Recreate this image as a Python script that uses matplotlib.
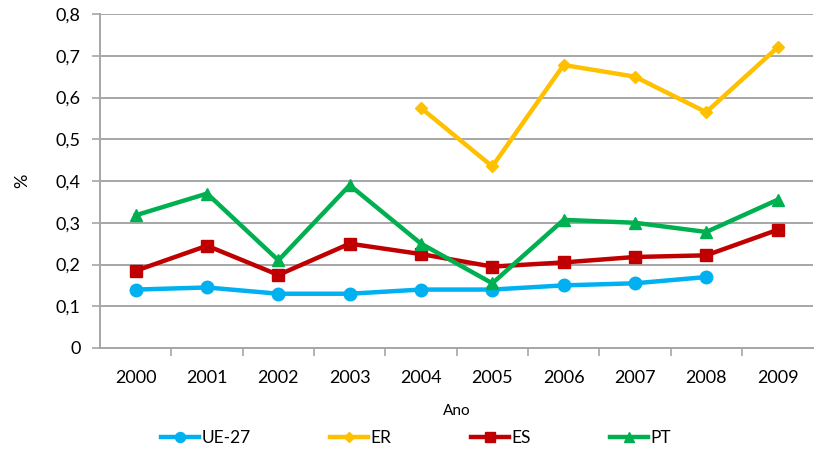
import matplotlib.pyplot as plt
import numpy as np

years = ['2000', '2001', '2002', '2003', '2004', '2005', '2006', '2007', '2008', '2009']
ue27 = [0.14, 0.145, 0.13, 0.13, 0.14, 0.14, 0.15, 0.155, 0.17, None]
er = [None, None, None, None, 0.575, 0.435, 0.678, 0.65, 0.565, 0.72]
es = [0.185, 0.245, 0.175, 0.25, 0.225, 0.195, 0.205, 0.218, 0.222, 0.283]
pt = [0.318, 0.37, 0.21, 0.39, 0.25, 0.155, 0.307, 0.30, 0.278, 0.355]

series = [
    ('UE-27', ue27, '#00B0F0', 'o', 9),
    ('ER', er, '#FFC000', 'D', 6),
    ('ES', es, '#C00000', 's', 9),
    ('PT', pt, '#00B050', '^', 9),
]

plt.rcParams['font.family'] = ['Lato', 'DejaVu Sans']

fig = plt.figure(figsize=(8.14, 4.54), dpi=100)
ax = fig.add_axes([0.123, 0.2335, 0.876, 0.7355])

x = np.arange(len(years))
for label, vals, color, marker, ms in series:
    y = np.array([np.nan if v is None else v for v in vals], dtype=float)
    ax.plot(x, y, color=color, lw=3.2, marker=marker, ms=ms,
            markeredgecolor=color, label=label, zorder=3)

ax.set_xlim(-0.5, 9.5)
ax.set_ylim(0, 0.8)
ax.set_yticks(np.arange(0, 0.81, 0.1))
ax.set_yticklabels(['0'] + ['0,%d' % i for i in range(1, 9)])
ax.yaxis.grid(True, color='#A6A6A6', lw=1.4)
ax.set_axisbelow(True)

ax.set_xticks(x)
ax.set_xticklabels(years)
ax.set_xticks(np.arange(0.5, 9.5, 1), minor=True)
ax.tick_params(axis='x', which='major', length=0, pad=16, labelsize=13)
ax.tick_params(axis='x', which='minor', length=6, color='#A6A6A6', width=1.2)
ax.tick_params(axis='y', length=6, color='#A6A6A6', width=1.2, pad=8, labelsize=13)

for s in ['top', 'right']:
    ax.spines[s].set_visible(False)
for s in ['left', 'bottom']:
    ax.spines[s].set_color('#A6A6A6')
    ax.spines[s].set_linewidth(1.4)

ax.set_xlabel('Ano', fontsize=11, labelpad=13)
ax.set_ylabel('%', fontsize=13, labelpad=18)

fig.legend(loc='center', bbox_to_anchor=(0.511, 0.035), ncol=4,
           frameon=False, fontsize=12.5, columnspacing=4.6, handlelength=2.2,
           handletextpad=0.1, markerscale=0.8, borderpad=0)

fig.savefig('out.png', dpi=100)
